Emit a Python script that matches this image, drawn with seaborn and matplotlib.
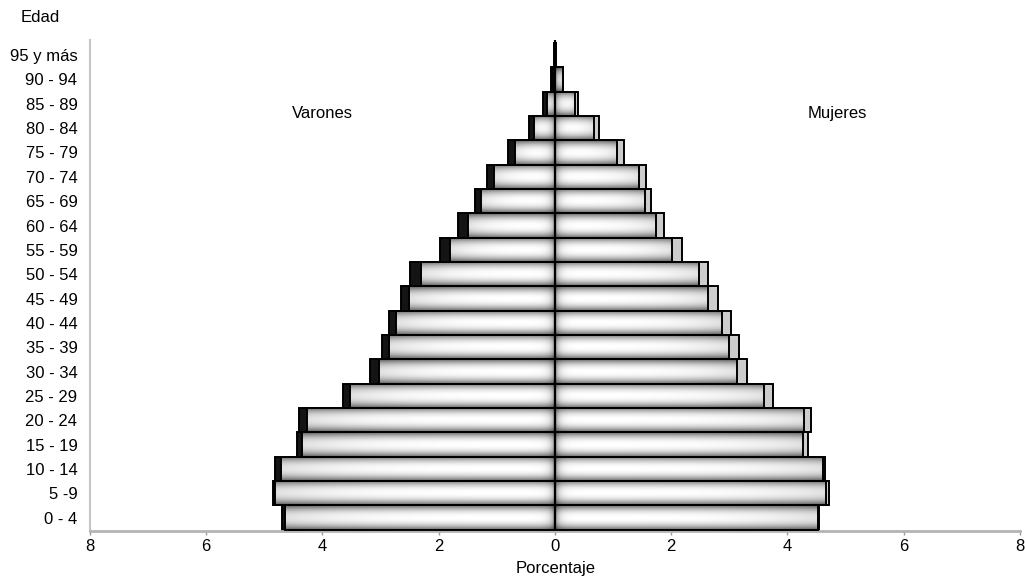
import numpy as np
import pandas as pd
import matplotlib
matplotlib.use('Agg')
import matplotlib.pyplot as plt
import seaborn as sns

ages = [
    '95 y más', '90 - 94', '85 - 89', '80 - 84', '75 - 79', '70 - 74',
    '65 - 69', '60 - 64', '55 - 59', '50 - 54', '45 - 49', '40 - 44',
    '35 - 39', '30 - 34', '25 - 29', '20 - 24', '15 - 19', '10 - 14',
    '5 -9', '0 - 4',
]
# percentages, top (95 y más) to bottom (0 - 4)
varones_fondo = [0.01, 0.06, 0.21, 0.44, 0.80, 1.17, 1.38, 1.67, 1.97, 2.49,
                 2.65, 2.85, 2.98, 3.19, 3.65, 4.41, 4.44, 4.81, 4.85, 4.69]
varones_frente = [0.005, 0.03, 0.14, 0.36, 0.68, 1.05, 1.27, 1.49, 1.80, 2.31,
                  2.51, 2.74, 2.85, 3.02, 3.52, 4.26, 4.35, 4.71, 4.82, 4.64]
mujeres_fondo = [0.02, 0.14, 0.40, 0.76, 1.19, 1.56, 1.66, 1.87, 2.18, 2.63,
                 2.81, 3.02, 3.16, 3.30, 3.75, 4.41, 4.35, 4.64, 4.72, 4.54]
mujeres_frente = [0.02, 0.13, 0.34, 0.67, 1.06, 1.44, 1.55, 1.74, 2.02, 2.47,
                  2.64, 2.87, 2.99, 3.14, 3.60, 4.29, 4.26, 4.61, 4.67, 4.52]
xticks = [-8, -6, -4, -2, 0, 2, 4, 6, 8]

df = pd.DataFrame({
    'edad': ages,
    'v_fondo': [-v for v in varones_fondo],
    'v_frente': [-v for v in varones_frente],
    'm_fondo': mujeres_fondo,
    'm_frente': mujeres_frente,
})

sns.set_style('white')
plt.rcParams['font.family'] = ['Liberation Sans', 'DejaVu Sans']
plt.rcParams['text.color'] = 'black'
plt.rcParams['xtick.labelcolor'] = 'black'
plt.rcParams['ytick.labelcolor'] = 'black'

fig = plt.figure(figsize=(10.25, 5.79), dpi=100)
ax = fig.add_axes([0.0878, 0.0829, 0.9073, 0.848])

bar_kw = dict(y='edad', order=ages, orient='h', width=1.0, ax=ax,
              edgecolor='black', linewidth=1.4)
sns.barplot(data=df, x='v_fondo', color='#141414', **bar_kw)
sns.barplot(data=df, x='m_fondo', color='#cccccc', **bar_kw)
n_back = len(ax.patches)
sns.barplot(data=df, x='v_frente', color='white', **bar_kw)
sns.barplot(data=df, x='m_frente', color='white', **bar_kw)

# shaded fill for the front bars (light in the middle, darker at edges)
for p in ax.patches[n_back:]:
    x0, w = p.get_x(), p.get_width()
    y0, h = p.get_y(), p.get_height()
    if abs(w) < 1e-6:
        continue
    xs = np.linspace(x0, x0 + w, 200)
    ts = np.linspace(0, 1, 40)
    d = np.abs(xs)
    horiz = 1 - 0.4 * np.exp(-d / 0.07) - 0.12 * (d / max(d.max(), 1e-6)) ** 4
    vert = 1 - 0.6 * np.abs(2 * ts - 1) ** 2.2
    img = np.outer(vert, horiz)
    im = ax.imshow(img, extent=(x0, x0 + w, y0 + h, y0), cmap='gray',
                   vmin=0, vmax=1, aspect='auto', zorder=2.5,
                   interpolation='bilinear')
    im.set_clip_path(p)
    p.set_facecolor('none')
    p.set_zorder(3)

ax.axvline(0, color='black', lw=1.6, zorder=5)

ax.set_xlim(-8, 8)
ax.set_ylim(19.55, -0.62)
ax.set_xticks(xticks)
ax.set_xticklabels([str(abs(t)) for t in xticks])
ax.set_xlabel('')
ax.set_ylabel('')
ax.tick_params(axis='x', length=3, width=1, color='#999999', pad=3,
               labelsize=12, bottom=True)
ax.tick_params(axis='y', length=0, pad=9, labelsize=12)

for s in ['top', 'right']:
    ax.spines[s].set_visible(False)
ax.spines['left'].set_color('#c4c4c4')
ax.spines['left'].set_linewidth(1.5)
ax.spines['bottom'].set_color('#b4b4b4')
ax.spines['bottom'].set_linewidth(2)

ax.text(-4.0, 2.4, 'Varones', ha='center', va='center', fontsize=12)
ax.text(4.85, 2.4, 'Mujeres', ha='center', va='center', fontsize=12)
fig.text(40 / 1025, 1 - 18 / 579, 'Edad', ha='center', va='center', fontsize=12)
fig.text(556 / 1025, 1 - 569 / 579, 'Porcentaje', ha='center', va='center',
         fontsize=12)

fig.savefig('out.png', dpi=100)
